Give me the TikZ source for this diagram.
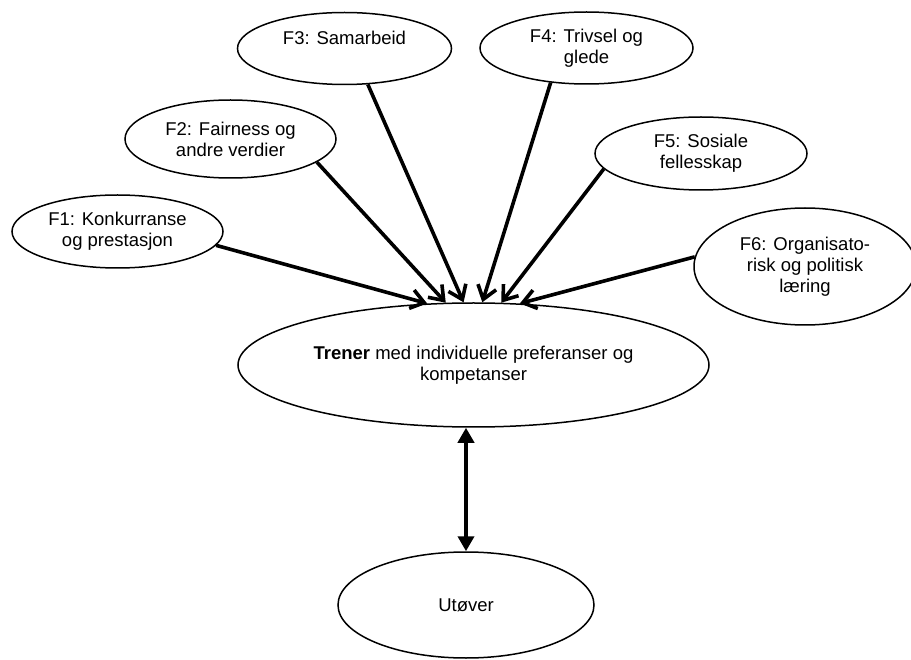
\documentclass[tikz,border=0pt]{standalone}
\usepackage{fontspec}
\setmainfont{Liberation Sans}
\usetikzlibrary{arrows.meta,shapes.geometric}
\begin{document}
\begin{tikzpicture}[x=1pt,y=-1pt,
  ell/.style={ellipse,draw,line width=1.5pt,inner sep=0pt,align=center,
    font=\fontsize{18.5pt}{21pt}\selectfont},
  arr/.style={line width=3.6pt,-{Straight Barb[length=13pt,width=19pt]}},
  dbl/.style={line width=4pt,{Triangle[length=15pt,width=16pt]}-{Triangle[length=15pt,width=16pt]}}]
\fill[white] (0,0) rectangle (911,660);
\useasboundingbox (0,0) rectangle (911,660);
\node[ell,minimum width=211pt,minimum height=73pt] (f1) at (117.5,231.5) {F1: Konkurranse\\og prestasjon};
\node[ell,minimum width=211pt,minimum height=78pt] (f2) at (230.5,139) {F2: Fairness og\\andre verdier};
\node[ell,minimum width=214pt,minimum height=72pt] (f3) at (344.5,48.5) {F3: Samarbeid\\\mbox{}};
\node[ell,minimum width=213pt,minimum height=72pt] (f4) at (586.5,48) {F4: Trivsel og\\glede};
\node[ell,minimum width=212pt,minimum height=73pt] (f5) at (701,153.5) {F5: Sosiale\\fellesskap};
\node[ell,minimum width=222pt,minimum height=117pt] (f6) at (805,266.5) {F6: Organisato-\\risk og politisk\\læring};
\node[ell,minimum width=471pt,minimum height=124pt] (tr) at (473.5,365) {\textbf{Trener} med individuelle preferanser og\\kompetanser};
\node[ell,minimum width=256pt,minimum height=106pt] (ut) at (466,605) {Utøver};
\draw[arr] (f1.-8) -- (tr.127.4);
\draw[arr] (f2.-15) -- (tr.114.9);
\draw[arr] (f3.-57) -- (tr.99.6);
\draw[arr] (f4.224.6) -- (tr.82.2);
\draw[arr] (f5.189.75) -- (tr.66.7);
\draw[arr] (f6.175) -- (tr.53.2);
\draw[dbl] (tr.south -| ut.north) -- (ut.north);
\end{tikzpicture}
\end{document}
